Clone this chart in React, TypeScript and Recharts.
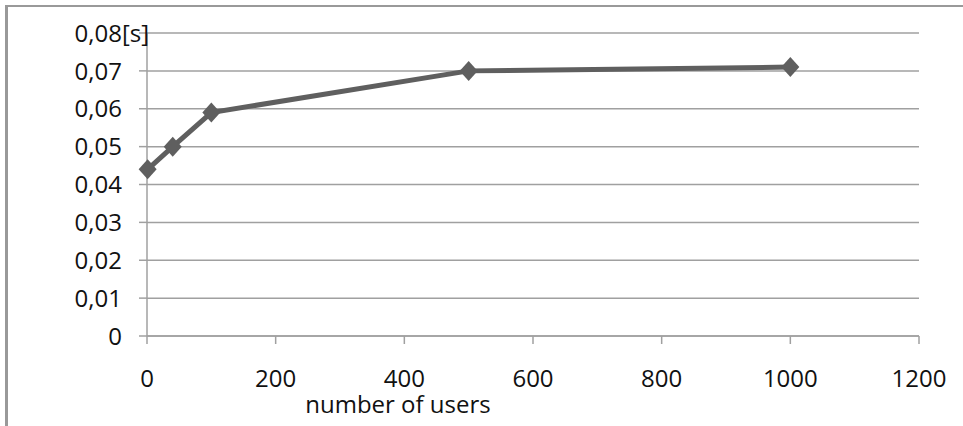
import { CartesianGrid, Label, Line, LineChart, XAxis, YAxis } from 'recharts'

const users = [1, 40, 100, 500, 1000]
const responseTime = [0.044, 0.05, 0.059, 0.07, 0.071]
const xTicks = [0, 200, 400, 600, 800, 1000, 1200]
const yTicks = [0, 0.01, 0.02, 0.03, 0.04, 0.05, 0.06, 0.07, 0.08]

const data = users.map((u, i) => ({ users: u, time: responseTime[i] }))

const GRID = '#a0a0a0'
const LINE = '#5f5f5f'
const FONT = '"Open Sans", sans-serif'
const TEXT = '#111'

const fmt = (v: number) => (v === 0 ? '0' : v.toFixed(2).replace('.', ','))

function YTick(props: any) {
  const { x, y, payload } = props
  const top = payload.value === yTicks[yTicks.length - 1]
  return (
    <g>
      <text x={x} y={y} dy="0.36em" textAnchor="end" fontFamily={FONT} fontSize={24} fill={TEXT}>
        {fmt(payload.value)}
      </text>
      {top && (
        <text x={x} y={y} dy="0.36em" textAnchor="start" fontFamily={FONT} fontSize={24} fill={TEXT}>
          [s]
        </text>
      )}
    </g>
  )
}

// diamond marker, slightly taller than wide
function Diamond(props: any) {
  const { cx, cy } = props
  if (cx == null || cy == null) return null
  return <path d={`M${cx},${cy - 10} L${cx + 9},${cy} L${cx},${cy + 10} L${cx - 9},${cy} Z`} fill={LINE} />
}

function AxisTitle(props: any) {
  const { viewBox } = props
  return (
    <text x={viewBox.x + 251} y={413} textAnchor="middle" fontFamily={FONT} fontSize={24} fill={TEXT}>
      number of users
    </text>
  )
}

export default function App() {
  return (
    <div style={{ position: 'absolute', left: 0, top: 0, width: 963, height: 426, background: '#fff' }}>
      <div
        style={{
          position: 'absolute',
          left: 5,
          top: 5,
          width: 958,
          height: 421,
          borderTop: '2px solid #999',
          borderLeft: '3px solid #999',
          boxSizing: 'border-box',
        }}
      />
      <LineChart
        width={963}
        height={426}
        data={data}
        margin={{ top: 33, right: 44, bottom: 30, left: 87 }}
        style={{ position: 'absolute', left: 0, top: 0 }}
      >
        <CartesianGrid vertical={false} stroke={GRID} strokeWidth={1.5} />
        <XAxis
          type="number"
          dataKey="users"
          domain={[0, 1200]}
          ticks={xTicks}
          interval={0}
          height={60}
          stroke={GRID}
          strokeWidth={1.5}
          tickSize={8}
          tickMargin={26}
          tick={{ fontFamily: FONT, fontSize: 24, fill: TEXT }}
        >
          <Label content={<AxisTitle />} />
        </XAxis>
        <YAxis
          type="number"
          domain={[0, 0.08]}
          ticks={yTicks}
          interval={0}
          width={60}
          stroke={GRID}
          strokeWidth={1.5}
          tickSize={8}
          tickMargin={17}
          tick={<YTick />}
        />
        <Line
          type="linear"
          dataKey="time"
          stroke={LINE}
          strokeWidth={5}
          dot={<Diamond />}
          activeDot={false}
          isAnimationActive={false}
        />
      </LineChart>
    </div>
  )
}
